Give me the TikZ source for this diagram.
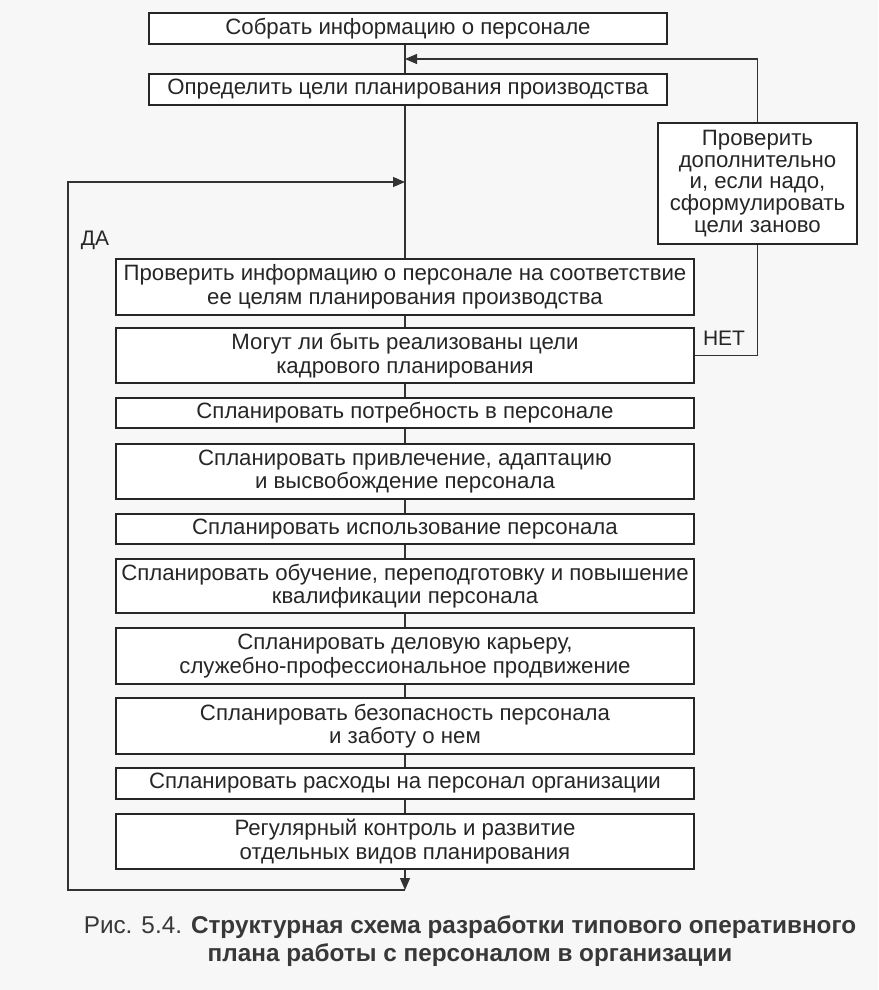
\documentclass[tikz,border=0pt]{standalone}
\usepackage{fontspec}
\setmainfont{Liberation Sans}
\usepackage{tikz}
\usetikzlibrary{arrows.meta}

\tikzset{
  blk/.style={draw=black!85, line width=1.1pt, fill=white, align=center,
    inner sep=0pt, font=\fontsize{22.2}{23.5}\selectfont, text=black!85},
  lnk/.style={draw=black!80, line width=1.1pt},
  arr/.style={lnk, -{Triangle[length=12pt,width=10pt]}},
}

\begin{document}
\begin{tikzpicture}[x=1pt,y=-1pt]
  % фон и рамка картинки
  \fill[black!3] (0,0) rectangle (878,990);
  \useasboundingbox (0,0) rectangle (878,990);

  % верхние блоки
  \node[blk, minimum width=518pt, minimum height=31pt] (sobrat) at (408,28.5)
    {Собрать информацию о персонале};
  \node[blk, minimum width=518pt, minimum height=31pt] (celi) at (408,89.5)
    {Определить цели планирования производства};
  \node[blk, minimum width=199pt, minimum height=121pt, font=\fontsize{22.2}{21.8}\selectfont]
    (zanovo) at (757.5,183.5)
    {Проверить\\дополнительно\\и, если надо,\\сформулировать\\цели заново};

  % основной столбец
  \node[blk, minimum width=578pt, minimum height=56pt] (sootv) at (405,287)
    {Проверить информацию о персонале на соответствие\\ее целям планирования производства};
  \node[blk, minimum width=578pt, minimum height=55pt] (mogut) at (405,355.5)
    {Могут ли быть реализованы цели\\кадрового планирования};
  \node[blk, minimum width=578pt, minimum height=30pt] (potreb) at (405,413)
    {Спланировать потребность в персонале};
  \node[blk, minimum width=578pt, minimum height=55pt] (privl) at (405,471.5)
    {Спланировать привлечение, адаптацию\\и высвобождение персонала};
  \node[blk, minimum width=578pt, minimum height=30pt] (ispol) at (405,529)
    {Спланировать использование персонала};
  \node[blk, minimum width=578pt, minimum height=54pt] (obuch) at (405,586)
    {Спланировать обучение, переподготовку и повышение\\квалификации персонала};
  \node[blk, minimum width=578pt, minimum height=56pt] (karera) at (405,656)
    {Спланировать деловую карьеру,\\служебно-профессиональное продвижение};
  \node[blk, minimum width=578pt, minimum height=56pt] (bezop) at (405,726)
    {Спланировать безопасность персонала\\и заботу о нем};
  \node[blk, minimum width=578pt, minimum height=31pt] (rashod) at (405,783.5)
    {Спланировать расходы на персонал организации};
  \node[blk, minimum width=578pt, minimum height=55pt] (kontrol) at (405,841.5)
    {Регулярный контроль и развитие\\отдельных видов планирования};

  % точки петель
  \coordinate (vozvr) at (405,59);
  \coordinate (vhod) at (405,182);
  \coordinate (niz) at (405,890);

  % вертикальные связи
  \draw[lnk] (sobrat.south -| vozvr) -- (celi.north -| vozvr);
  \draw[lnk] (celi.south -| vozvr) -- (sootv.north);
  \draw[lnk] (sootv) -- (mogut);
  \draw[lnk] (mogut) -- (potreb);
  \draw[lnk] (potreb) -- (privl);
  \draw[lnk] (privl) -- (ispol);
  \draw[lnk] (ispol) -- (obuch);
  \draw[lnk] (obuch) -- (karera);
  \draw[lnk] (karera) -- (bezop);
  \draw[lnk] (bezop) -- (rashod);
  \draw[lnk] (rashod) -- (kontrol);

  % ветка НЕТ
  \draw[lnk] (mogut.east) -| (zanovo.south);
  \draw[arr] (zanovo.north) |- (vozvr);
  \node[font=\fontsize{21}{24}\selectfont, text=black!85] (net) at (724,338) {НЕТ};

  % ветка ДА
  \draw[arr] (kontrol.south) -- (niz);
  \draw[arr] (niz) -- (68,890) -- (68,182) -- (vhod);
  \node[font=\fontsize{21}{24}\selectfont, text=black!85] (da) at (95,240) {ДА};

  % подпись
  \node[font=\fontsize{24.3}{28.5}\selectfont, text=black!78, align=center] (podpis) at (470,941)
    {Рис. 5.4. \textbf{Структурная схема разработки типового оперативного}\\
     \textbf{плана работы с персоналом в организации}};
\end{tikzpicture}
\end{document}
